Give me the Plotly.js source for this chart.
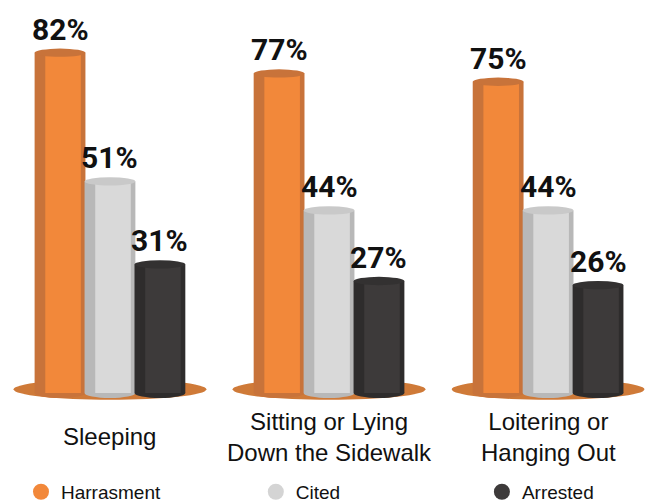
<!DOCTYPE html>
<html>
<head>
<meta charset="utf-8">
<script src="https://cdn.plot.ly/plotly-3.0.1.min.js"></script>
<style>html,body{margin:0;padding:0;background:#fff;}#chart{width:646px;height:504px;}</style>
</head>
<body>
<div id="chart"></div>
<script>
// ---- data ----
const categories = ["Sleeping", "Sitting or Lying<br>Down the Sidewalk", "Loitering or<br>Hanging Out"];
const seriesNames = ["Harrasment", "Cited", "Arrested"];
const harrasment = [82, 77, 75];
const cited = [51, 44, 44];
const arrested = [31, 27, 26];

// ---- styles ----
const seriesValues = [harrasment, cited, arrested];
const rimColors = ["#c8733a", "#b8b8b8", "#2e2c2c"];
const bodyColors = ["#f2883a", "#d9d9d9", "#3d3a3a"];
const capColors = ["#c8733a", "#c9c9c9", "#333131"];
const legendColors = ["#f2883a", "#d4d4d4", "#3d3a3a"];
const offsets = [-0.228, 0, 0.228];
const barW = 0.232;
const legendIds = ["legend", "legend2", "legend3"];
const legendX = [0.0325, 0.396, 0.746];

const traces = [];
const shapes = [];
const annotations = [];

// base shadows under each group
categories.forEach((c, gi) => {
  shapes.push({type: "circle", xref: "x", yref: "y", layer: "below",
    x0: gi - 0.44, x1: gi + 0.44, y0: -1.6, y1: 3.4,
    fillcolor: "#cf7a38", line: {width: 0}});
});

seriesValues.forEach((vals, si) => {
  const xs = categories.map((c, gi) => gi + offsets[si]);
  traces.push({type: "bar", x: xs, y: vals, width: barW, marker: {color: rimColors[si], line: {width: 0}},
    showlegend: false, hoverinfo: "skip"});
  traces.push({type: "bar", x: xs.map(x => x + barW * 0.06), y: vals, width: barW * 0.7,
    marker: {color: bodyColors[si], line: {width: 0}}, showlegend: false, hoverinfo: "skip"});
  vals.forEach((v, gi) => {
    const x = xs[gi];
    // bottom rounding
    shapes.push({type: "circle", xref: "x", yref: "y", layer: "below",
      x0: x - barW / 2, x1: x + barW / 2, y0: -1.2, y1: 1.2,
      fillcolor: rimColors[si], line: {width: 0}});
    // top cap
    shapes.push({type: "circle", xref: "x", yref: "y", layer: "above",
      x0: x - barW / 2, x1: x + barW / 2, y0: v - 1.0, y1: v + 1.0,
      fillcolor: capColors[si], line: {width: 0}});
    annotations.push({xref: "x", yref: "y", x: x, y: v + 1, text: v + "%", showarrow: false,
      yanchor: "bottom", xanchor: "center", yshift: 0,
      font: {family: "Roboto, Liberation Sans, sans-serif", size: 30, color: "#111", weight: 700}});
  });
});

// legend entries (one legend per entry so they can be spread out)
seriesNames.forEach((n, si) => {
  traces.push({type: "scatter", mode: "markers", x: [null], y: [null], name: n, legend: legendIds[si],
    marker: {color: legendColors[si], size: 22, symbol: "circle"}});
});

// category labels
categories.forEach((c, gi) => {
  annotations.push({xref: "x", yref: "paper", x: gi, y: -0.045, text: c, showarrow: false,
    yanchor: "middle", xanchor: "center", align: "center",
    font: {family: "Liberation Sans, Arial, sans-serif", size: 24, color: "#111"}});
});

const layout = {
  width: 646, height: 504,
  margin: {l: 0, r: 0, t: 0, b: 86, pad: 0},
  paper_bgcolor: "#fff", plot_bgcolor: "#fff",
  barmode: "overlay",
  xaxis: {range: [-0.502, 2.447], showgrid: false, zeroline: false, showticklabels: false, ticks: "", fixedrange: true},
  yaxis: {range: [-6, 94.7], showgrid: false, zeroline: false, showticklabels: false, ticks: "", fixedrange: true},
  shapes: shapes,
  annotations: annotations,
  showlegend: true,
  font: {family: "Liberation Sans, Arial, sans-serif"}
};
legendIds.forEach((id, i) => {
  layout[id] = {orientation: "h", xref: "container", yref: "container", x: legendX[i], y: 0.024,
    xanchor: "left", yanchor: "middle", bgcolor: "rgba(0,0,0,0)",
    font: {family: "Liberation Sans, Arial, sans-serif", size: 19, color: "#111"}};
});

Plotly.newPlot("chart", traces, layout, {displayModeBar: false, staticPlot: true});
</script>
</body>
</html>
